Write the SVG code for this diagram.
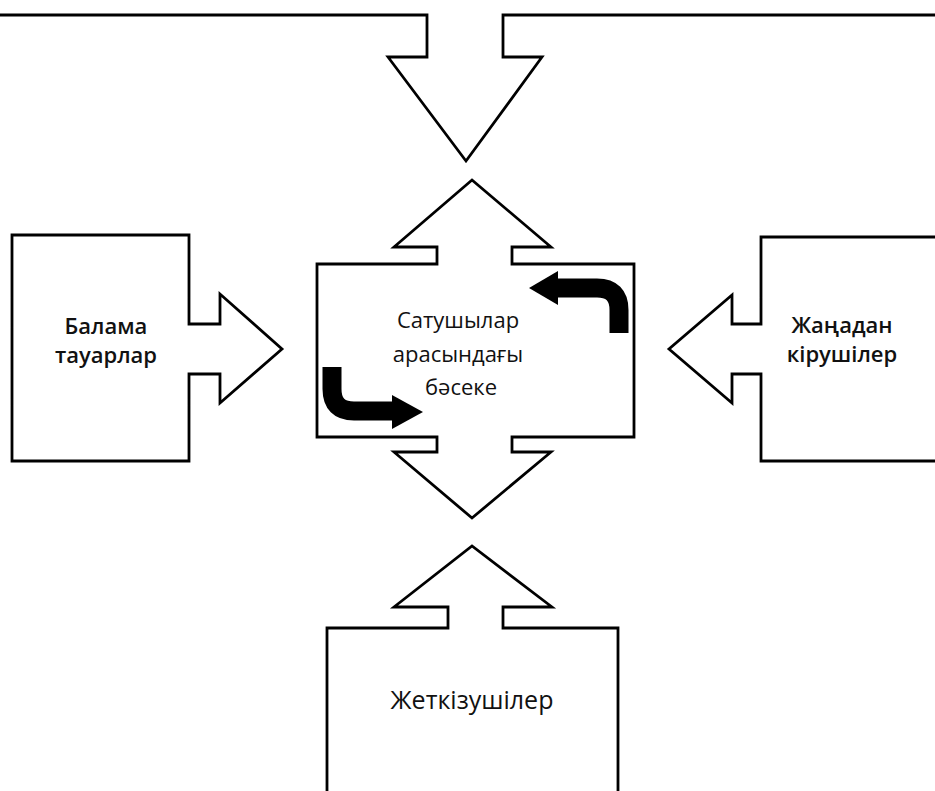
<svg xmlns="http://www.w3.org/2000/svg" width="935" height="791" viewBox="0 0 935 791">
  <style>
    .shape { fill: #ffffff; stroke: #000000; stroke-width: 2.8; stroke-linejoin: miter; }
    .label { font-family: "Open Sans", "Noto Sans", "DejaVu Sans", sans-serif; font-size: 22px; fill: #111111; text-anchor: middle; }
    .bold { font-weight: 600; }
    .big { font-size: 25px; }
    .turn { fill: none; stroke: #000000; stroke-width: 19; }
    .head { fill: #000000; stroke: none; }
  </style>
  <rect x="0" y="0" width="935" height="791" fill="#ffffff"/>

  <!-- upper force: box cut off by the top edge, arrow pointing down -->
  <g id="node-top">
    <path class="shape" d="M -5,-5 V 15 H 427 V 57 H 388 L 466,161 L 542,57 H 503 V 15 H 940 V -5 Z"/>
  </g>

  <!-- substitutes, arrow pointing right -->
  <g id="node-substitutes">
    <path class="shape" d="M 12,235 H 189 V 324 H 220 V 294 L 282,349 L 220,403 V 374 H 189 V 461 H 12 Z"/>
    <text class="label bold" x="106" y="334">Балама</text>
    <text class="label bold" x="106" y="363">тауарлар</text>
  </g>

  <!-- rivalry in the centre, double arrow up and down -->
  <g id="node-rivalry">
    <path class="shape" d="M 472,180 L 551,247 H 512 V 264 H 634 V 437 H 512 V 452 H 551 L 472,518 L 394,452 H 437 V 437 H 317 V 264 H 437 V 247 H 394 Z"/>
    <text class="label" x="458" y="328">Сатушылар</text>
    <text class="label" x="458" y="362">арасындағы</text>
    <text class="label" x="461" y="395">бәсеке</text>
  </g>

  <!-- new entrants, arrow pointing left -->
  <g id="node-entrants">
    <path class="shape" d="M 940,237 H 761 V 324 H 732 V 295 L 669,349 L 732,403 V 374 H 761 V 461 H 940 Z"/>
    <text class="label bold" x="842" y="333">Жаңадан</text>
    <text class="label bold" x="842" y="362">кірушілер</text>
  </g>

  <!-- suppliers, arrow pointing up -->
  <g id="node-suppliers">
    <path class="shape" d="M 327,800 V 628 H 448 V 607 H 394 L 472,546 L 552,607 H 503 V 628 H 618 V 800 Z"/>
    <text class="label big" x="472" y="709">Жеткізушілер</text>
  </g>

  <!-- bent arrows inside the rivalry box -->
  <g id="connectors">
    <path class="turn" d="M 619,333 V 310 Q 619,288 597,288 H 556"/>
    <polygon class="head" points="558,271 529,288 558,305"/>
    <path class="turn" d="M 332,367 V 389 Q 332,411 354,411 H 394"/>
    <polygon class="head" points="392,395 423,412 392,429"/>
  </g>
</svg>
